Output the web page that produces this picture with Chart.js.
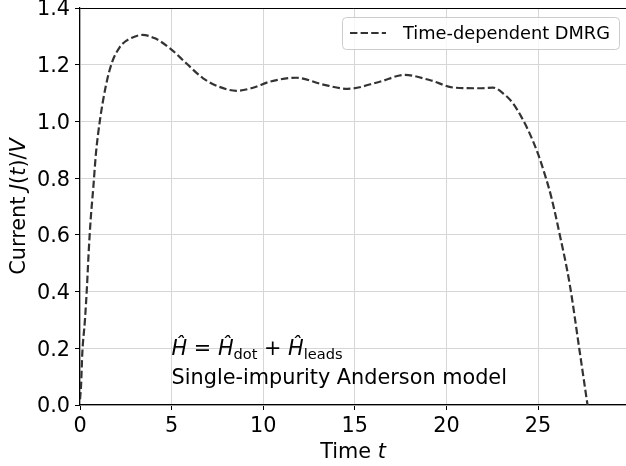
<!DOCTYPE html>
<html>
<head>
<meta charset="utf-8">
<script src="https://cdn.jsdelivr.net/npm/chart.js@4.4.0/dist/chart.umd.min.js"></script>
<style>
  html, body { margin: 0; padding: 0; background: #fff; }
</style>
</head>
<body>
<canvas id="ctx" width="626" height="466"></canvas>
<script>
// values
const time = [0, 0.055, 0.125, 0.27, 0.38, 0.47, 0.58, 0.73, 0.87, 1.09, 1.4, 1.73, 2.18, 2.45, 2.9, 3.4, 4.09, 4.91, 5.8, 6.72, 7.6, 8.54, 9.4, 10.36, 11.8, 13.27, 14.6, 16.36, 17.72, 19.08, 20.45, 21.81, 22.54, 23.17, 23.63, 24.08, 24.54, 24.99, 25.35, 25.72, 26.17, 26.72, 27.26, 27.7];
const current = [0.02, 0.065, 0.182, 0.30, 0.417, 0.535, 0.652, 0.77, 0.887, 1.005, 1.122, 1.205, 1.263, 1.281, 1.297, 1.305, 1.293, 1.258, 1.205, 1.152, 1.122, 1.108, 1.118, 1.14, 1.154, 1.13, 1.115, 1.14, 1.164, 1.146, 1.119, 1.117, 1.119, 1.095, 1.064, 1.017, 0.958, 0.887, 0.817, 0.734, 0.605, 0.429, 0.194, 0.0];
const xTicks = [0, 5, 10, 15, 20, 25];
const yTicks = [0, 0.2, 0.4, 0.6, 0.8, 1.0, 1.2, 1.4];
const seriesLabel = 'Time-dependent DMRG';

const FONT = 'DejaVu Sans';
const LINE_COLOR = '#333333';
const GRID_COLOR = '#d6d6d6';
const DASH = [7.4, 3.2];

const points = time.map((t, i) => ({ x: t, y: current[i] }));

// draw a row of text pieces, some italic / subscript
function drawPieces(c, pieces, x, y, align) {
  let total = 0;
  const widths = pieces.map(p => {
    c.font = (p.it ? 'italic ' : '') + (p.size || 20.8) + 'px "' + FONT + '"';
    const w = c.measureText(p.t).width;
    total += w;
    return w;
  });
  let cx = align === 'center' ? x - total / 2 : x;
  pieces.forEach((p, i) => {
    c.font = (p.it ? 'italic ' : '') + (p.size || 20.8) + 'px "' + FONT + '"';
    c.fillText(p.t, cx, y + (p.dy || 0));
    cx += widths[i];
  });
}

const textPlugin = {
  id: 'textPlugin',
  afterDraw(chart) {
    const c = chart.ctx;
    const area = chart.chartArea;
    const xs = chart.scales.x, ys = chart.scales.y;
    c.save();
    c.fillStyle = '#000';
    c.textBaseline = 'alphabetic';

    // x axis title
    drawPieces(c, [{ t: 'Time ' }, { t: 't', it: true }], (area.left + area.right) / 2, 458, 'center');

    // y axis title
    c.save();
    c.translate(25, (area.top + area.bottom) / 2);
    c.rotate(-Math.PI / 2);
    drawPieces(c, [{ t: 'Current ' }, { t: 'J', it: true }, { t: '(' }, { t: 't', it: true }, { t: ')/' }, { t: 'V', it: true }], 0, 0, 'center');
    c.restore();

    // annotation
    const ax = xs.getPixelForValue(5);
    drawPieces(c, [
      { t: 'Ĥ', it: true }, { t: ' = ' }, { t: 'Ĥ', it: true }, { t: 'dot', size: 14.6, dy: 4 },
      { t: ' + ' }, { t: 'Ĥ', it: true }, { t: 'leads', size: 14.6, dy: 4 }
    ], ax, ys.getPixelForValue(0.176), 'left');
    drawPieces(c, [{ t: 'Single-impurity Anderson model' }], ax, ys.getPixelForValue(0.074), 'left');

    // legend
    const bx = 342, by = 17, bw = 277, bh = 32;
    c.beginPath();
    c.roundRect(bx + 0.5, by + 0.5, bw, bh, 4);
    c.fillStyle = 'rgba(255,255,255,0.8)';
    c.fill();
    c.strokeStyle = '#cccccc';
    c.lineWidth = 1;
    c.stroke();
    c.beginPath();
    c.setLineDash(DASH);
    c.strokeStyle = LINE_COLOR;
    c.lineWidth = 2;
    c.moveTo(350, 33);
    c.lineTo(386, 33);
    c.stroke();
    c.setLineDash([]);
    c.fillStyle = '#000';
    drawPieces(c, [{ t: seriesLabel, size: 17.8 }], 403, 39, 'left');
    c.restore();
  }
};

new Chart(document.getElementById('ctx'), {
  type: 'line',
  data: {
    datasets: [{
      label: seriesLabel,
      data: points,
      borderColor: LINE_COLOR,
      borderWidth: 2.2,
      borderDash: DASH,
      pointRadius: 0,
      cubicInterpolationMode: 'monotone',
      fill: false
    }]
  },
  options: {
    responsive: false,
    animation: false,
    devicePixelRatio: 1,
    layout: { padding: { top: 8, right: 0, left: 0, bottom: 0 } },
    plugins: { legend: { display: false }, tooltip: { enabled: false } },
    scales: {
      x: {
        type: 'linear',
        min: 0,
        max: 29.8,
        afterBuildTicks: s => { s.ticks = xTicks.map(v => ({ value: v })); },
        ticks: { font: { family: FONT, size: 20.8 }, color: '#000', padding: 4, maxRotation: 0 },
        grid: { color: GRID_COLOR, tickColor: '#000', tickLength: 5 },
        border: { color: '#000', width: 1.2 },
        afterFit: s => { s.height = 61; s.paddingLeft = 0; s.paddingRight = 0; }
      },
      y: {
        min: 0,
        max: 1.4,
        afterBuildTicks: s => { s.ticks = yTicks.map(v => ({ value: v })); },
        ticks: { font: { family: FONT, size: 20.8 }, color: '#000', padding: 5, labelOffset: 2, callback: v => v.toFixed(1) },
        grid: {
          color: c => (c.tick && c.tick.value === 1.4 ? '#000' : GRID_COLOR),
          tickColor: '#000',
          tickLength: 5
        },
        border: { color: '#000', width: 1.2 },
        afterFit: s => { s.width = 80; s.paddingTop = 0; s.paddingBottom = 0; }
      }
    }
  },
  plugins: [textPlugin]
});
</script>
</body>
</html>
